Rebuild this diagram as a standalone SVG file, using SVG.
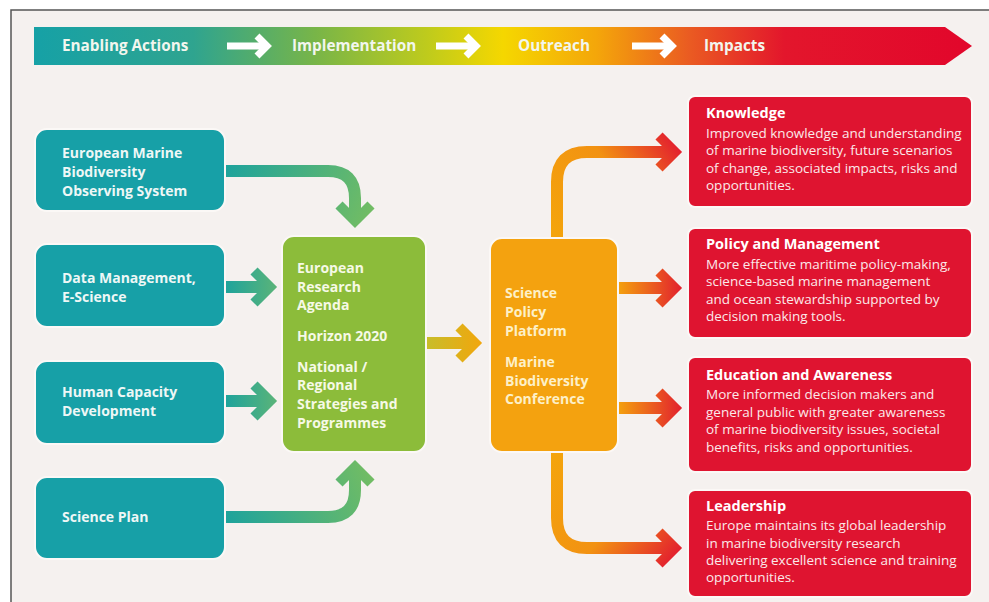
<svg xmlns="http://www.w3.org/2000/svg" width="989" height="602" viewBox="0 0 989 602">
  <style>
    text { font-family: "Open Sans", "Noto Sans", "Liberation Sans", sans-serif; }
    .bn { font-size: 15.3px; font-weight: 700; fill: #f2f6ee; }
    .lt { font-size: 14px; font-weight: 700; fill: #eef7f6; }
    .gt { font-size: 14px; font-weight: 700; fill: #f6f9e6; }
    .ot { font-size: 14px; font-weight: 700; fill: #fdf0c8; }
    .rt { font-size: 14.5px; font-weight: 700; fill: #ffffff; }
    .rb { font-size: 13.5px; font-weight: 400; fill: #fbe9ea; }
    .teal { fill: #17a0a7; stroke: #fbf8f6; stroke-width: 2; }
    .red { fill: #df1430; stroke: #fbf8f6; stroke-width: 2; }
    .conn path { fill: none; stroke-width: 12; stroke-linejoin: miter; stroke-miterlimit: 10; }
    .conn path.h { stroke-width: 10; }
    .wa path { fill: none; stroke: #ffffff; stroke-width: 7; stroke-linejoin: miter; }
  </style>
  <defs>
    <linearGradient id="banner" x1="34" y1="0" x2="972" y2="0" gradientUnits="userSpaceOnUse">
      <stop offset="0" stop-color="#16a1a6"/>
      <stop offset="0.17" stop-color="#2fa48f"/>
      <stop offset="0.3" stop-color="#78b548"/>
      <stop offset="0.42" stop-color="#bfcb1c"/>
      <stop offset="0.5" stop-color="#f5d700"/>
      <stop offset="0.6" stop-color="#f4a60a"/>
      <stop offset="0.7" stop-color="#ea5a22"/>
      <stop offset="0.8" stop-color="#e3162c"/>
      <stop offset="1" stop-color="#e2062b"/>
    </linearGradient>
    <linearGradient id="g1" x1="225" y1="171" x2="370" y2="228" gradientUnits="userSpaceOnUse">
      <stop offset="0" stop-color="#1ea39c"/>
      <stop offset="1" stop-color="#74bd62"/>
    </linearGradient>
    <linearGradient id="g2" x1="225" y1="0" x2="278" y2="0" gradientUnits="userSpaceOnUse">
      <stop offset="0" stop-color="#1ea39c"/>
      <stop offset="1" stop-color="#5cb478"/>
    </linearGradient>
    <linearGradient id="g4" x1="225" y1="517" x2="370" y2="460" gradientUnits="userSpaceOnUse">
      <stop offset="0" stop-color="#1ea39c"/>
      <stop offset="1" stop-color="#74bd62"/>
    </linearGradient>
    <linearGradient id="go" x1="427" y1="0" x2="482" y2="0" gradientUnits="userSpaceOnUse">
      <stop offset="0" stop-color="#c8bd2a"/>
      <stop offset="1" stop-color="#f2a60c"/>
    </linearGradient>
    <linearGradient id="or1" x1="557" y1="238" x2="682" y2="152" gradientUnits="userSpaceOnUse">
      <stop offset="0" stop-color="#f4a40c"/>
      <stop offset="0.55" stop-color="#f29212"/>
      <stop offset="1" stop-color="#e3202e"/>
    </linearGradient>
    <linearGradient id="or2" x1="618" y1="0" x2="682" y2="0" gradientUnits="userSpaceOnUse">
      <stop offset="0" stop-color="#f4a20e"/>
      <stop offset="1" stop-color="#e2202e"/>
    </linearGradient>
    <linearGradient id="or4" x1="557" y1="452" x2="682" y2="548" gradientUnits="userSpaceOnUse">
      <stop offset="0" stop-color="#f4a40c"/>
      <stop offset="0.55" stop-color="#f29212"/>
      <stop offset="1" stop-color="#e3202e"/>
    </linearGradient>
  </defs>

  <!-- page -->
  <rect x="0" y="0" width="989" height="602" fill="#ffffff"/>
  <rect x="11" y="10" width="978" height="592" fill="#f5f1ef"/>
  <path d="M11 602 V10 H989" fill="none" stroke="#555555" stroke-width="1.5"/>

  <!-- banner -->
  <g id="banner">
    <path d="M34 27 H945 L972 46 L945 65 H34 Z" fill="url(#banner)"/>
    <text class="bn" x="62" y="51">Enabling Actions</text>
    <text class="bn" x="292" y="51">Implementation</text>
    <text class="bn" x="518" y="51">Outreach</text>
    <text class="bn" x="704" y="51">Impacts</text>
    <g class="wa">
      <path d="M227 46 H265"/><path d="M257 36 L267 46 L257 56"/>
      <path d="M436 46 H474"/><path d="M466 36 L476 46 L466 56"/>
      <path d="M632 46 H670"/><path d="M662 36 L672 46 L662 56"/>
    </g>
  </g>

  <!-- connectors -->
  <g id="connectors" class="conn">
    <path stroke="url(#g1)" d="M224 171 H328 Q355 171 355 198 V214"/>
    <path class="h" stroke="url(#g1)" d="M339 205 L355 221 L371 205"/>
    <path stroke="url(#g2)" d="M224 287 H268"/>
    <path class="h" stroke="url(#g2)" d="M254 271 L270 287 L254 303"/>
    <path stroke="url(#g2)" d="M224 401 H268"/>
    <path class="h" stroke="url(#g2)" d="M254 385 L270 401 L254 417"/>
    <path stroke="url(#g4)" d="M224 517 H328 Q355 517 355 490 V474"/>
    <path class="h" stroke="url(#g4)" d="M339 483 L355 467 L371 483"/>
    <path stroke="url(#go)" d="M426 343 H473"/>
    <path class="h" stroke="url(#go)" d="M459 327 L475 343 L459 359"/>
    <path stroke="url(#or1)" d="M557 240 V182 Q557 152 587 152 H673"/>
    <path class="h" stroke="url(#or1)" d="M659 136 L675 152 L659 168"/>
    <path stroke="url(#or2)" d="M617 288 H673"/>
    <path class="h" stroke="url(#or2)" d="M659 272 L675 288 L659 304"/>
    <path stroke="url(#or2)" d="M617 408 H673"/>
    <path class="h" stroke="url(#or2)" d="M659 392 L675 408 L659 424"/>
    <path stroke="url(#or4)" d="M557 450 V518 Q557 548 587 548 H673"/>
    <path class="h" stroke="url(#or4)" d="M659 532 L675 548 L659 564"/>
  </g>

  <!-- left nodes -->
  <g id="n-embos">
    <rect class="teal" x="35" y="129" width="190" height="82" rx="12"/>
    <text class="lt" x="62" y="158">European Marine</text>
    <text class="lt" x="62" y="177">Biodiversity</text>
    <text class="lt" x="62" y="196">Observing System</text>
  </g>
  <g id="n-data">
    <rect class="teal" x="35" y="244" width="190" height="83" rx="12"/>
    <text class="lt" x="62" y="283">Data Management,</text>
    <text class="lt" x="62" y="302">E-Science</text>
  </g>
  <g id="n-human">
    <rect class="teal" x="35" y="361" width="190" height="83" rx="12"/>
    <text class="lt" x="62" y="397">Human Capacity</text>
    <text class="lt" x="62" y="416">Development</text>
  </g>
  <g id="n-plan">
    <rect class="teal" x="35" y="477" width="190" height="82" rx="12"/>
    <text class="lt" x="62" y="522">Science Plan</text>
  </g>

  <!-- implementation -->
  <g id="n-impl">
    <rect x="282" y="236" width="144" height="216" rx="12" fill="#8cbc3a" stroke="#fbf8f6" stroke-width="2"/>
    <text class="gt" x="297" y="273">European</text>
    <text class="gt" x="297" y="292">Research</text>
    <text class="gt" x="297" y="310">Agenda</text>
    <text class="gt" x="297" y="341">Horizon 2020</text>
    <text class="gt" x="297" y="372">National /</text>
    <text class="gt" x="297" y="390">Regional</text>
    <text class="gt" x="297" y="409">Strategies and</text>
    <text class="gt" x="297" y="428">Programmes</text>
  </g>

  <!-- outreach -->
  <g id="n-outreach">
    <rect x="490" y="238" width="128" height="214" rx="12" fill="#f4a20f" stroke="#fbf8f6" stroke-width="2"/>
    <text class="ot" x="505" y="298">Science</text>
    <text class="ot" x="505" y="317">Policy</text>
    <text class="ot" x="505" y="336">Platform</text>
    <text class="ot" x="505" y="367">Marine</text>
    <text class="ot" x="505" y="386">Biodiversity</text>
    <text class="ot" x="505" y="404">Conference</text>
  </g>

  <!-- impacts -->
  <g id="n-knowledge">
    <rect class="red" x="688" y="96" width="284" height="111" rx="7"/>
    <text class="rt" x="706" y="118">Knowledge</text>
    <text class="rb" x="706" y="138">Improved knowledge and understanding</text>
    <text class="rb" x="706" y="155">of marine biodiversity, future scenarios</text>
    <text class="rb" x="706" y="173">of change, associated impacts, risks and</text>
    <text class="rb" x="706" y="190">opportunities.</text>
  </g>
  <g id="n-policy">
    <rect class="red" x="688" y="228" width="284" height="110" rx="7"/>
    <text class="rt" x="706" y="249">Policy and Management</text>
    <text class="rb" x="706" y="269">More effective maritime policy-making,</text>
    <text class="rb" x="706" y="286">science-based marine management</text>
    <text class="rb" x="706" y="304">and ocean stewardship supported by</text>
    <text class="rb" x="706" y="321">decision making tools.</text>
  </g>
  <g id="n-education">
    <rect class="red" x="688" y="357" width="284" height="115" rx="7"/>
    <text class="rt" x="706" y="380">Education and Awareness</text>
    <text class="rb" x="706" y="399">More informed decision makers and</text>
    <text class="rb" x="706" y="417">general public with greater awareness</text>
    <text class="rb" x="706" y="434">of marine biodiversity issues, societal</text>
    <text class="rb" x="706" y="452">benefits, risks and opportunities.</text>
  </g>
  <g id="n-leadership">
    <rect class="red" x="688" y="490" width="284" height="107" rx="7"/>
    <text class="rt" x="706" y="511">Leadership</text>
    <text class="rb" x="706" y="530">Europe maintains its global leadership</text>
    <text class="rb" x="706" y="548">in marine biodiversity research</text>
    <text class="rb" x="706" y="565">delivering excellent science and training</text>
    <text class="rb" x="706" y="582">opportunities.</text>
  </g>
</svg>
